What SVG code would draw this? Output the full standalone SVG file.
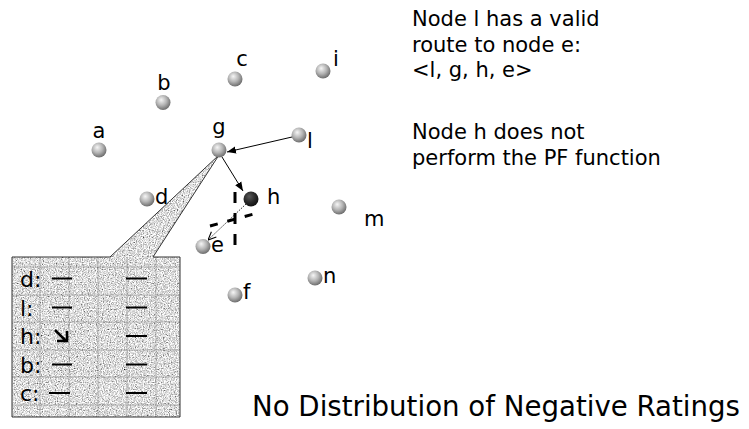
<svg xmlns="http://www.w3.org/2000/svg" width="749" height="429" viewBox="0 0 749 429">
<style>
  text { font-family: "DejaVu Sans", "Liberation Sans", sans-serif; fill: #000; }
  .lbl { font-size: 21px; }
  .info { font-size: 21px; }
  .tbl { font-size: 22px; }
  .node { fill: url(#sphere); }
  .dash { stroke: #000; stroke-width: 2; fill: none; }
  .grid { stroke: #8c8c8c; stroke-width: 0.8; opacity: 0.7; fill: none; }
</style>
<defs>
  <radialGradient id="sphere" cx="0.42" cy="0.38" r="0.62" fx="0.38" fy="0.32">
    <stop offset="0" stop-color="#f6f6f6"/>
    <stop offset="0.55" stop-color="#b4b4b4"/>
    <stop offset="1" stop-color="#6e6e6e"/>
  </radialGradient>
  <radialGradient id="dark" cx="0.42" cy="0.38" r="0.62" fx="0.38" fy="0.32">
    <stop offset="0" stop-color="#5a5a5a"/>
    <stop offset="0.6" stop-color="#2a2a2a"/>
    <stop offset="1" stop-color="#111"/>
  </radialGradient>
  <filter id="noise" x="0" y="0" width="1" height="1">
    <feTurbulence type="fractalNoise" baseFrequency="0.85" numOctaves="2" seed="4" result="t"/>
    <feColorMatrix in="t" type="matrix" values="1.8 0 0 0 -0.18  1.8 0 0 0 -0.18  1.8 0 0 0 -0.18  0 0 0 0 1" result="g"/>
    <feComposite in="g" in2="SourceGraphic" operator="in"/>
  </filter>
  <marker id="ah" viewBox="0 0 10 10" refX="10" refY="5" markerWidth="9" markerHeight="9" markerUnits="userSpaceOnUse" orient="auto">
    <path d="M0,1 L10,5 L0,9 z" fill="#000"/>
  </marker>
  <marker id="ao" viewBox="0 0 10 10" refX="10" refY="5" markerWidth="9" markerHeight="9" markerUnits="userSpaceOnUse" orient="auto">
    <path d="M1,1 L10,5 L1,9" fill="none" stroke="#000" stroke-width="1.2"/>
  </marker>
</defs>

<!-- callout -->
<g id="callout">
  <path d="M12,257 L110,257 L219,155 L153,257 L180,257 L180,417 L12,417 Z" fill="#fff" filter="url(#noise)"/>
  <g class="grid">
    <line x1="40" y1="257" x2="40" y2="417"/>
    <line x1="69" y1="257" x2="69" y2="417"/>
    <line x1="98" y1="257" x2="98" y2="417"/>
    <line x1="127" y1="257" x2="127" y2="417"/>
    <line x1="156" y1="257" x2="156" y2="417"/>
    <line x1="12" y1="267" x2="180" y2="267"/>
    <line x1="12" y1="295" x2="180" y2="295"/>
    <line x1="12" y1="322" x2="180" y2="322"/>
    <line x1="12" y1="350" x2="180" y2="350"/>
    <line x1="12" y1="377" x2="180" y2="377"/>
    <line x1="12" y1="405" x2="180" y2="405"/>
  </g>
  <path d="M12,257 L110,257 L219,155 L153,257 L180,257 L180,417 L12,417 Z" fill="none" stroke="#333" stroke-width="1"/>
  <text class="tbl" x="20" y="287">d:</text>
  <text class="tbl" x="20" y="316">l:</text>
  <text class="tbl" x="20" y="344">h:</text>
  <text class="tbl" x="20" y="373">b:</text>
  <text class="tbl" x="20" y="401">c:</text>
  <g class="dash">
    <line x1="52" y1="278.5" x2="72" y2="278.5"/>
    <line x1="52" y1="307.5" x2="72" y2="307.5"/>
    <line x1="52" y1="364.5" x2="72" y2="364.5"/>
    <line x1="49" y1="393" x2="70" y2="393"/>
    <line x1="126" y1="278.5" x2="147" y2="278.5"/>
    <line x1="126" y1="307.5" x2="147" y2="307.5"/>
    <line x1="126" y1="336" x2="147" y2="336"/>
    <line x1="126" y1="364.5" x2="147" y2="364.5"/>
    <line x1="126" y1="393" x2="147" y2="393"/>
    <path d="M55,330 L66,341 M57,341 H67 V331" stroke-width="2.5"/>
  </g>
</g>

<!-- connectors -->
<g id="connectors">
  <line x1="292" y1="137" x2="227" y2="152" stroke="#000" stroke-width="1" marker-end="url(#ah)"/>
  <line x1="222" y1="157" x2="243" y2="191" stroke="#000" stroke-width="1" marker-end="url(#ah)"/>
  <line x1="246" y1="204" x2="208" y2="240" stroke="#000" stroke-width="0.8" stroke-dasharray="1.5 1.2" marker-end="url(#ao)"/>
  <line x1="235" y1="192" x2="235" y2="245" stroke="#000" stroke-width="3" stroke-dasharray="11 10"/>
  <line x1="210" y1="226" x2="261" y2="212" stroke="#000" stroke-width="3" stroke-dasharray="8 10"/>
</g>

<!-- nodes -->
<g id="node-a"><circle class="node" cx="99" cy="150" r="7.5"/><text class="lbl" x="99" y="138" text-anchor="middle">a</text></g>
<g id="node-b"><circle class="node" cx="163" cy="102.5" r="7.5"/><text class="lbl" x="164" y="90" text-anchor="middle">b</text></g>
<g id="node-c"><circle class="node" cx="235" cy="79" r="7.5"/><text class="lbl" x="242" y="66" text-anchor="middle">c</text></g>
<g id="node-i"><circle class="node" cx="323" cy="71" r="7.5"/><text class="lbl" x="336" y="66" text-anchor="middle">i</text></g>
<g id="node-g"><circle class="node" cx="219" cy="150" r="7.5"/><text class="lbl" x="219" y="134" text-anchor="middle">g</text></g>
<g id="node-l"><circle class="node" cx="299" cy="135" r="7.5"/><text class="lbl" x="307" y="148">l</text></g>
<g id="node-d"><circle class="node" cx="147" cy="199" r="7.5"/><text class="lbl" x="155" y="204">d</text></g>
<g id="node-h"><circle cx="251" cy="199" r="7.5" fill="url(#dark)"/><text class="lbl" x="267" y="204">h</text></g>
<g id="node-m"><circle class="node" cx="339" cy="207" r="7.5"/><text class="lbl" x="364" y="226">m</text></g>
<g id="node-e"><circle class="node" cx="203" cy="246.5" r="7.5"/><text class="lbl" x="211" y="252">e</text></g>
<g id="node-n"><circle class="node" cx="315" cy="278" r="7.5"/><text class="lbl" x="323" y="283">n</text></g>
<g id="node-f"><circle class="node" cx="235" cy="295" r="7.5"/><text class="lbl" x="243" y="299">f</text></g>

<!-- notes -->
<g id="notes">
  <text class="info" x="412" y="26">Node l has a valid</text>
  <text class="info" x="412" y="51.5">route to node e:</text>
  <text class="info" x="412" y="77">&lt;l, g, h, e&gt;</text>
  <text class="info" x="412" y="139">Node h does not</text>
  <text class="info" x="412" y="164.5">perform the PF function</text>
</g>
<text id="title" x="252" y="416" font-size="28" textLength="488" lengthAdjust="spacingAndGlyphs">No Distribution of Negative Ratings</text>
</svg>
